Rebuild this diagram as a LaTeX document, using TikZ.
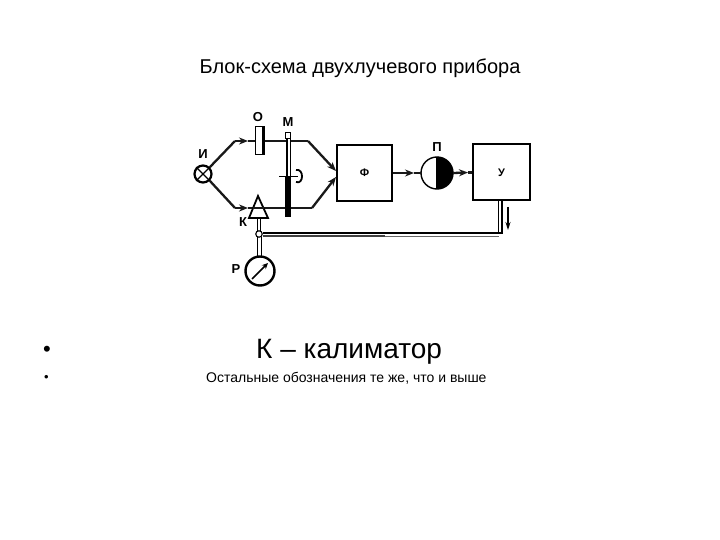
\documentclass[tikz,border=0pt]{standalone}
\usepackage{fontspec}
\setmainfont{Liberation Sans}
\usetikzlibrary{arrows.meta}
\tikzset{
 beam/.style={line width=2.3pt,black!90},
 tip/.style={-{Stealth[length=9pt,width=7pt]}},
 box/.style={draw,line width=2pt,minimum width=55pt,minimum height=56pt,inner sep=0pt,font=\bfseries\fontsize{11}{11}\selectfont},
 lbl/.style={inner sep=0pt,font=\bfseries\fontsize{13}{13}\selectfont},
 txt/.style={inner sep=0pt,anchor=base west},
 rail/.style={line width=1.1pt},
 round/.style={circle,draw,line width=2.2pt,inner sep=0pt,fill=white},
}
\begin{document}
\begin{tikzpicture}[x=1pt,y=-1pt]
\useasboundingbox (0,0) rectangle (720,540);
\fill[white] (0,0) rectangle (720,540);
% texts
\node[txt] (title) at (199.5,73.5) {\fontsize{20}{20}\selectfont Блок-схема двухлучевого прибора};
\node[txt] (b1) at (43,356) {\fontsize{22}{22}\selectfont •};
\node[txt] (l1) at (256,358) {\fontsize{28}{28}\selectfont К – калиматор};
\node[txt] (b2) at (44,381) {\fontsize{13}{13}\selectfont •};
\node[txt] (l2) at (206,382) {\fontsize{14}{14}\selectfont Остальные обозначения те же, что и выше};
% coordinates of beams
\coordinate (ua) at (235,141); \coordinate (ub) at (308,141);
\coordinate (la) at (235,208); \coordinate (lb) at (312,208);
\coordinate (ut) at (336,171); \coordinate (lt) at (336,177);
\coordinate (ua2) at (248,141); \coordinate (la2) at (248,208);
% source
\node[round,minimum size=17pt] (src) at (203,174) {};
\draw[line width=1.4pt] (src.north west)--(src.south east) (src.north east)--(src.south west);
\draw[beam] (src.north east)--(ua);
\draw[beam] (src.south east)--(la);
\draw[beam,tip] (ua)--(ua2);
\draw[beam,tip] (la)--(la2);
\draw[beam] (ua2)--(ub);
\draw[beam] (la2)--(lb);
\draw[beam,tip] (ub)--(ut);
\draw[beam,tip] (lb)--(lt);
% object
\fill[white] (255,127) rectangle (264,155);
\draw[line width=1pt] (255,127) rectangle (264,155);
\draw[line width=2.6pt] (263.5,127)--(263.5,155);
\node[lbl] (o) at (258,117) {О};
% modulator
\draw[line width=1pt,fill=white] (285.5,133) rectangle (290.5,139);
\fill[white] (285.5,139) rectangle (290.5,177);
\draw[line width=2.4pt] (287,139)--(287,177);
\draw[line width=1pt] (290.5,139)--(290.5,177);
\fill[black] (285,177) rectangle (291,217);
\draw[line width=1pt] (279,177)--(298,177);
\draw[line width=1.8pt] (296,170) .. controls (304,168) and (304,185) .. (296,182);
\node[lbl] (m) at (288,122) {М};
\node[lbl] (i) at (203,154) {И};
% cell K
\coordinate (ktop) at (258,196);
\filldraw[fill=white,line width=1.8pt] (ktop)--(268,218)--(249,218)--cycle;
\draw[beam] (252.5,208)--(264,208);
\node[lbl] (k) at (243,222) {К};
% junction and gauge
\node[round,minimum size=6.5pt,line width=1.1pt] (jn) at (259,234) {};
\node[round,minimum size=29pt,line width=2.4pt] (gauge) at (260,271) {};
\draw[rail] (257.5,218)--(257.5,231) (260.8,218)--(260.8,231);
\draw[rail] (257.5,237)--(257.5,256) (261.2,237)--(261.2,256);
\draw[line width=1.5pt,-{Stealth[length=6pt,width=5.5pt]}] (252,279)--(268,263);
\node[lbl] (r) at (236,269) {Р};
% blocks
\node[box] (f) at (364.5,173) {Ф};
\node[box,minimum width=57pt] (u) at (501.5,172.5) {У};
\node[circle,minimum size=32pt,inner sep=0pt] (pm) at (437,173) {};
\fill[black] (pm.north) arc[start angle=90,end angle=-90,radius=16pt]--cycle;
\draw[line width=1.4pt] (pm.center) circle[radius=16pt];
\draw[line width=1.4pt] (pm.north)--(pm.south);
\node[lbl] (p) at (437,147) {П};
\coordinate (fa) at (414,173); \coordinate (pa) at (468,172.5);
\draw[beam,tip] (f.east |- pm.center)--(fa);
\draw[beam] (fa)--(pm.west);
\draw[beam,tip] (pm.east)--(pa);
\draw[beam] (pa)--(u.west |- pa);
% double rail
\coordinate (ra) at (502,233); \coordinate (rb) at (498.5,236);
\draw[rail] (jn.east |- ra)--(ra)--(502,200.5);
\draw[line width=1.8pt,black!75] (jn.east |- rb)--(385,236);
\draw[line width=.8pt,black!60] (385,236)--(rb);
\draw[rail] (498.5,200.5)--(498.5,232.5);
\coordinate (oa) at (508,207); \coordinate (ob) at (508,230);
\draw[line width=1.1pt,-{Stealth[length=8pt,width=5pt]}] (oa)--(ob);
\end{tikzpicture}
\end{document}
